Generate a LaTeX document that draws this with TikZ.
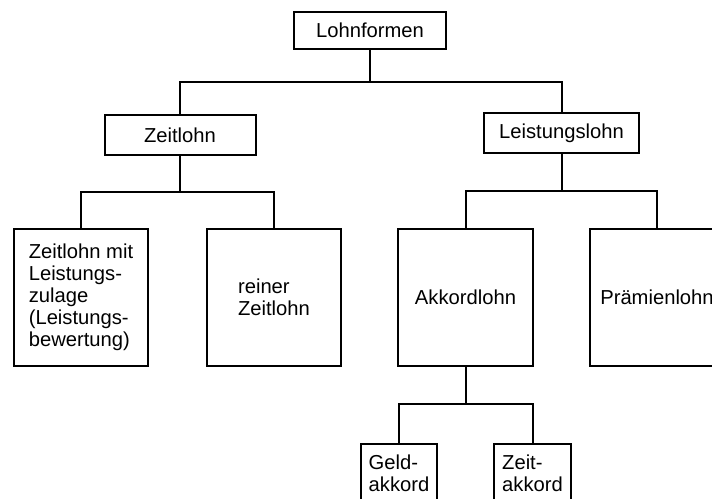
\documentclass[tikz,border=0pt]{standalone}
\usepackage{fontspec}
\setmainfont{Liberation Sans}
\begin{document}
\begin{tikzpicture}[x=1pt,y=-1pt,line width=2pt,
  frame/.style={draw,rectangle,inner sep=0pt,font=\fontsize{20.2}{22}\selectfont},
  box/.style={frame,align=center},
  lbox/.style={frame,align=left},
  txt/.style={inner sep=0pt,align=left,font=\fontsize{20.2}{22}\selectfont}]
\useasboundingbox (0,0) rectangle (712,498);
\clip (0,0) rectangle (712,498);
\fill[white] (0,0) rectangle (712,498);
% level 0
\node[box,minimum width=152pt,minimum height=37pt] (lohn) at (370,30.5) {Lohnformen};
% level 1
\node[box,minimum width=151pt,minimum height=40pt] (zeit) at (180,135) {Zeitlohn};
\node[box,minimum width=155pt,minimum height=40pt] (leist) at (561.5,133) {Leistungslohn};
% level 2
\node[lbox,minimum width=134pt,minimum height=137pt] (zmit) at (81,297.5)
  {Zeitlohn mit\\Leistungs-\\zulage\\(Leistungs-\\bewertung)};
\node[lbox,minimum width=134pt,minimum height=137pt] (reiner) at (274,297.5) {reiner\\Zeitlohn};
\node[box,minimum width=135pt,minimum height=137pt] (akk) at (465.5,297.5) {Akkordlohn};
\node[box,minimum width=134pt,minimum height=137pt] (praem) at (657,297.5) {Prämienlohn};
% level 3
\node[frame,minimum width=76pt,minimum height=80pt,anchor=north] (geld) at (399,443) {};
\node[txt,anchor=north] (geldt) at (399,453.5) {Geld-\\akkord};
\node[frame,minimum width=77pt,minimum height=80pt,anchor=north] (zeitak) at (532.5,443) {};
\node[txt,anchor=north] (zeitakt) at (532.5,453.5) {Zeit-\\akkord};
% connectors
\draw (lohn.south) -- ++(0,32) -| (zeit.north);
\draw (lohn.south) -- ++(0,32) -| (leist.north);
\draw (zeit.south) -- ++(0,36) -| (zmit.north);
\draw (zeit.south) -- ++(0,36) -| (reiner.north);
\draw (leist.south) -- ++(0,37) -| (praem.north);
\draw (leist.south) -- ++(0,37) -| (akk.north);
\draw (akk.south) -- ++(0,37) -| (geld.north);
\draw (akk.south) -- ++(0,37) -| (zeitak.north);
\end{tikzpicture}
\end{document}
